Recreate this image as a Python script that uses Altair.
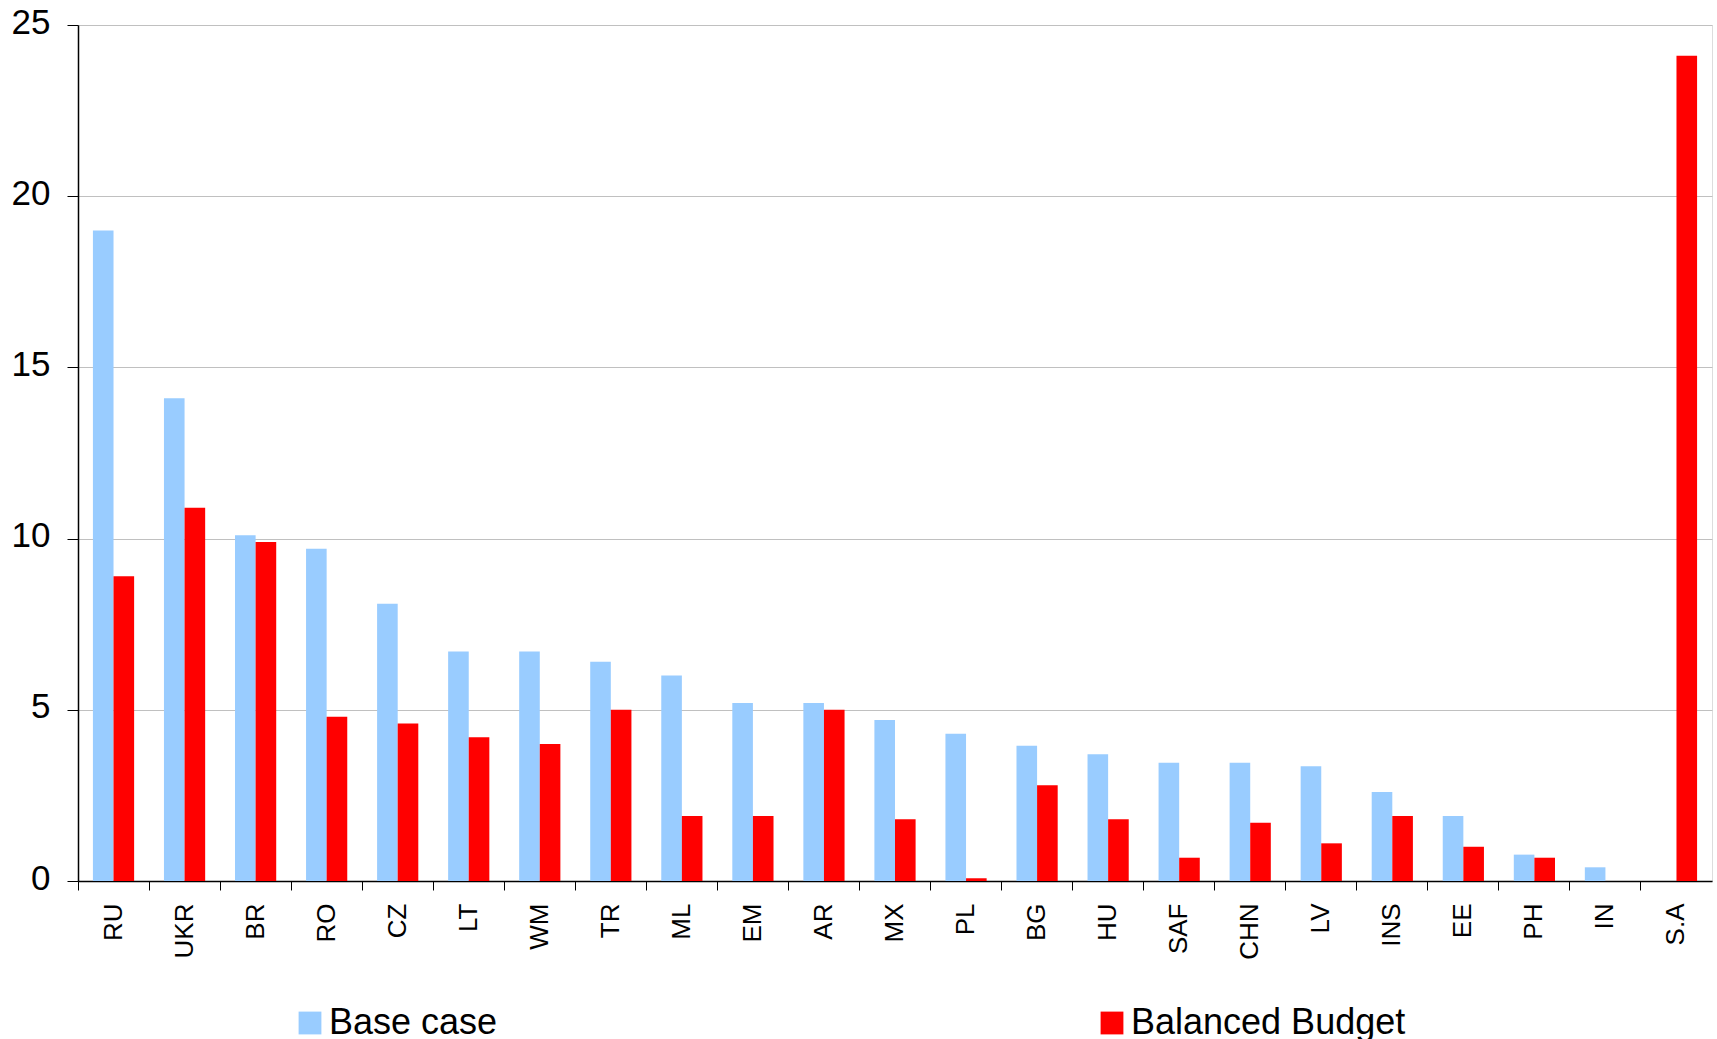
import altair as alt
import pandas as pd

# Categories along the x axis
countries = ["RU", "UKR", "BR", "RO", "CZ", "LT", "WM", "TR", "ML", "EM", "AR", "MX",
             "PL", "BG", "HU", "SAF", "CHN", "LV", "INS", "EE", "PH", "IN", "S.A"]

# Series values (None = no bar)
base_case = [19.0, 14.1, 10.1, 9.7, 8.1, 6.7, 6.7, 6.4, 6.0, 5.2, 5.2, 4.7,
             4.3, 3.95, 3.7, 3.45, 3.45, 3.35, 2.6, 1.9, 0.77, 0.4, None]
balanced_budget = [8.9, 10.9, 9.9, 4.8, 4.6, 4.2, 4.0, 5.0, 1.9, 1.9, 5.0, 1.8,
                   0.08, 2.8, 1.8, 0.68, 1.7, 1.1, 1.9, 1.0, 0.68, None, 24.1]

series_names = ["Base case", "Balanced Budget"]
series_colors = ["#99CCFF", "#FF0000"]
y_ticks = [0, 5, 10, 15, 20, 25]

rows = []
for c, b, r in zip(countries, base_case, balanced_budget):
    if b is not None:
        rows.append({"country": c, "series": series_names[0], "value": b})
    if r is not None:
        rows.append({"country": c, "series": series_names[1], "value": r})
df = pd.DataFrame(rows)

FONT = "Liberation Sans"
PLOT_W = 1634
PLOT_H = 856
PAD_INNER = 0.42
step = PLOT_W / len(countries)
bandwidth = step * (1 - PAD_INNER)
# place x ticks on the boundaries between categories
tick_band = -(PAD_INNER / 2) * step / bandwidth

chart = (
    alt.Chart(df)
    .mark_bar()
    .encode(
        x=alt.X(
            "country:N",
            sort=countries,
            scale=alt.Scale(domain=countries, paddingInner=PAD_INNER, paddingOuter=PAD_INNER / 2),
            axis=alt.Axis(
                title=None,
                labelAngle=270,
                labelAlign="right",
                labelBaseline="middle",
                labelFontSize=26,
                labelFont=FONT,
                labelColor="black",
                labelPadding=13,
                bandPosition=tick_band,
                tickSize=9,
                tickColor="black",
                domainColor="black",
                domainWidth=1.5,
                grid=False,
            ),
        ),
        xOffset=alt.XOffset("series:N", sort=series_names,
                            scale=alt.Scale(domain=series_names, paddingInner=0, paddingOuter=0)),
        y=alt.Y(
            "value:Q",
            scale=alt.Scale(domain=[0, 25], nice=False),
            axis=alt.Axis(
                title=None,
                values=y_ticks,
                labelFontSize=35,
                labelFont=FONT,
                labelColor="black",
                labelPadding=17,
                labelOffset=-3,
                tickSize=11,
                tickColor="black",
                domainColor="black",
                domainWidth=1.5,
                grid=True,
                gridColor="#C0C0C0",
                gridWidth=1,
            ),
        ),
        color=alt.Color(
            "series:N",
            sort=series_names,
            scale=alt.Scale(domain=series_names, range=series_colors),
            legend=alt.Legend(
                title=None,
                orient="none",
                direction="horizontal",
                legendX=214,
                legendY=980,
                symbolType="square",
                symbolSize=520,
                symbolStrokeWidth=0,
                labelFontSize=36,
                labelFont=FONT,
                labelColor="black",
                labelOffset=1,
                columnPadding=596,
                labelLimit=400,
                padding=0,
            ),
        ),
    )
    .properties(
        width=PLOT_W,
        height=PLOT_H,
        padding={"left": 78, "top": 25, "right": 5, "bottom": 158},
        autosize=alt.AutoSizeParams(type="none"),
    )
    .configure_view(strokeWidth=0)
    .configure(background="white")
)

chart.save("out.html", embed_options={"renderer": "svg", "actions": False})
